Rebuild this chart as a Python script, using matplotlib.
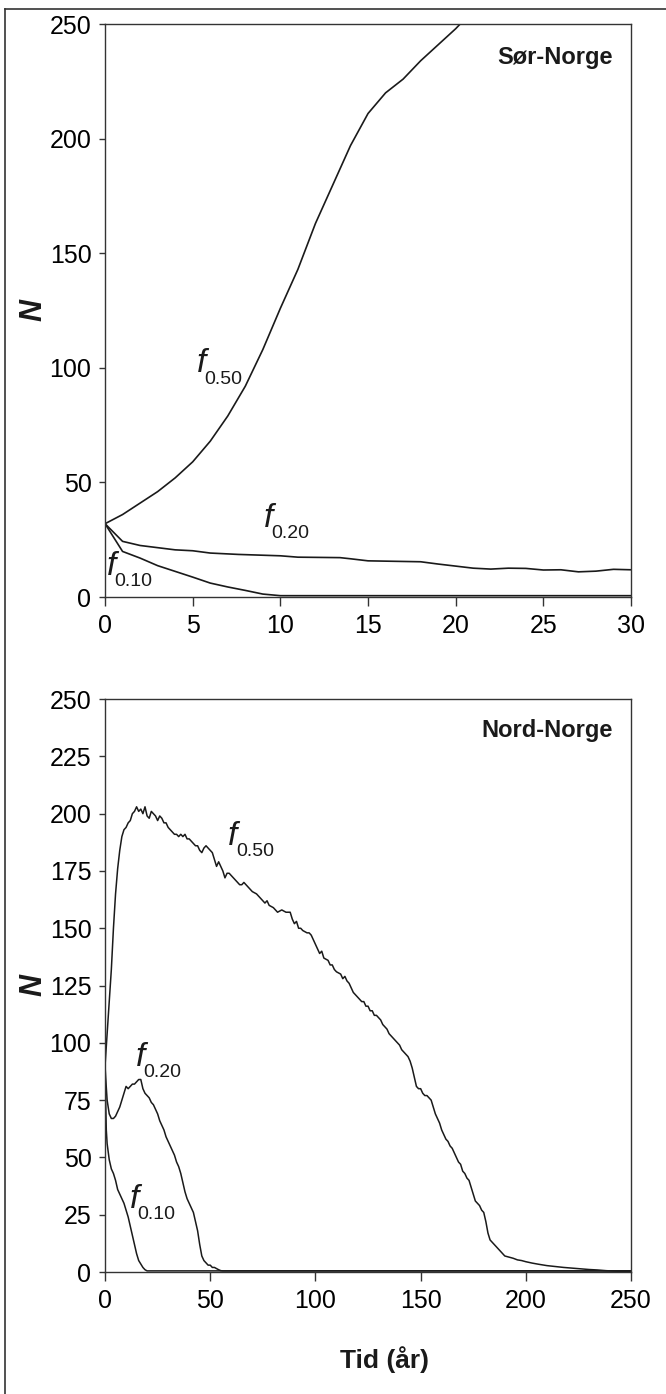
import matplotlib
matplotlib.use('Agg')
import matplotlib.pyplot as plt
from matplotlib.lines import Line2D

plt.rcParams['font.family'] = ['Liberation Sans', 'DejaVu Sans']

# --- Sør-Norge (top panel), years 0-30 ---
sor_x = [0, 1, 2, 3, 4, 5, 6, 7, 8, 9, 10, 11, 12, 13, 14, 15, 16, 17, 18, 19, 20, 21]
sor_f50 = [32, 36, 41, 46, 52, 59, 68, 79, 92, 108, 126, 143, 163, 180, 197, 211, 220, 226, 234, 241, 248, 256]

sor_x20 = [0, 1, 2, 4, 5, 6, 7.6, 10, 11, 13.4, 14, 15, 18, 19, 21, 22, 23, 24, 25, 26, 27, 28, 29, 30]
sor_f20 = [32, 24.3, 22.5, 20.6, 20.2, 19.2, 18.6, 18.0, 17.4, 17.2, 16.7, 15.8, 15.4, 14.4, 12.6, 12.2,
           12.6, 12.5, 11.8, 11.9, 11.0, 11.3, 12.1, 11.9]

sor_x10 = [0, 1, 2, 3, 4, 5, 6, 7, 8, 9, 10, 30]
sor_f10 = [32, 19.9, 17, 13.7, 11.2, 8.7, 6.1, 4.4, 2.9, 1.3, 0.6, 0.6]

# --- Nord-Norge (bottom panel), years 0-250 ---
nord_x50 = [0, 1, 2, 3, 4, 5, 6, 7, 8, 9, 10, 11, 12, 13, 14, 15, 16, 17, 18, 19, 20, 21, 22, 23, 24,
            25, 26, 27, 28, 29, 30, 31, 32, 33, 34, 35, 36, 37, 38, 39, 40, 41, 42, 43, 44, 45, 46, 47,
            48, 49, 50, 51, 52, 53, 54, 55, 56, 57, 58, 59, 60, 61, 62, 63, 64, 65, 66, 67, 68, 70, 72,
            74, 76, 77, 78, 80, 82, 84, 86, 88, 89, 90, 91, 92, 93, 94, 96, 97, 98, 99, 100, 101, 102,
            103, 104, 106, 107, 108, 109, 110, 112, 113, 114, 115, 116, 117, 118, 119, 120, 121, 122,
            123, 124, 125, 126, 127, 128, 129, 130, 131, 132, 133, 134, 135, 136, 137, 138, 139, 140,
            141, 142, 143, 144, 145, 146, 147, 148, 149, 150, 151, 152, 153, 154, 155, 156, 157, 158,
            159, 160, 161, 162, 163, 164, 165, 166, 167, 168, 169, 170, 171, 172, 173, 174, 175, 176,
            177, 178, 179, 180, 181, 182, 183, 184, 185, 186, 187, 188, 189, 190, 192, 194, 196, 198,
            200, 203, 206, 210, 214, 218, 222, 226, 230, 234, 238, 242, 246, 250]
nord_f50 = [90, 104, 118, 132, 150, 165, 176, 184, 190, 193, 194, 196, 197, 200, 201, 203, 201, 202, 200,
            203, 199, 198, 201, 200, 199, 197, 199, 198, 196, 196, 194, 193, 192, 191, 191, 190, 191,
            190, 191, 189, 189, 188, 187, 186, 186, 184, 183, 185, 186, 185, 184, 183, 180, 177, 179,
            177, 175, 172, 174, 174, 173, 172, 171, 170, 169, 169, 170, 169, 168, 166, 165, 163, 161,
            162, 160, 159, 157, 158, 157, 157, 154, 152, 153, 150, 150, 149, 148, 148, 147, 145, 143,
            141, 139, 140, 137, 136, 134, 134, 132, 131, 130, 128, 129, 127, 126, 124, 122, 121, 120,
            119, 118, 118, 116, 116, 114, 114, 112, 112, 111, 110, 108, 107, 106, 104, 103, 102, 101,
            100, 99, 97, 96, 95, 94, 92, 89, 85, 81, 80, 80, 78, 77, 77, 76, 75, 72, 69, 67, 65, 62, 60,
            58, 57, 55, 54, 52, 50, 48, 47, 44, 43, 41, 40, 37, 34, 31, 30, 29, 27, 26, 22, 17, 14, 13,
            12, 11, 10, 9, 8, 7, 6.5, 6, 5.3, 5, 4.5, 3.9, 3.4, 2.8, 2.4, 2.0, 1.7, 1.4, 1.1, 0.9, 0.6,
            0.4, 0.3, 0.3]

nord_x20 = [0, 0.5, 1, 2, 3, 4, 5, 6, 7, 8, 9, 10, 11, 12, 13, 14, 15, 16, 17, 18, 19, 20, 21, 22, 23,
            24, 25, 26, 27, 28, 29, 30, 31, 32, 33, 34, 35, 36, 37, 38, 39, 40, 41, 42, 43, 44, 45, 46,
            47, 48, 49, 50, 51, 52, 53, 54, 55, 56, 250]
nord_f20 = [90, 82, 75, 69, 67, 67, 68, 70, 72, 75, 78, 81, 80, 81, 82, 82, 83, 84, 84, 80, 78, 77, 76,
            74, 73, 71, 69, 66, 64, 62, 59, 57, 55, 53, 51, 48, 46, 43, 39, 35, 32, 30, 28, 26, 22, 18,
            12, 7, 5, 4, 3, 3, 2, 2, 1.5, 1, 0.6, 0.5, 0.5]

nord_x10 = [0, 0.3, 0.6, 1, 2, 3, 4, 5, 6, 7, 8, 9, 10, 11, 12, 13, 14, 15, 16, 17, 18, 19, 20, 250]
nord_f10 = [90, 75, 62, 56, 49, 45, 43, 40, 36, 34, 32, 30, 27, 24, 20, 16, 12, 8, 5, 3.5, 2, 1, 0.5, 0.5]

line_color = '#1a1a1a'
frame_color = '#333333'

fig = plt.figure(figsize=(6.66, 13.94), dpi=100)
ax1 = fig.add_axes([0.1577, 0.5717, 0.7898, 0.4110])
ax2 = fig.add_axes([0.1577, 0.0875, 0.7898, 0.4110])


def flabel(ax, x, y, sub):
    ax.text(x, y, 'f', fontsize=24, style='italic', ha='left', va='baseline', color=line_color)
    ax.annotate(sub, (x, y), xytext=(5.5, -8), textcoords='offset points', fontsize=14,
                ha='left', va='baseline', color=line_color, annotation_clip=False)


def style_axes(ax):
    for sp in ax.spines.values():
        sp.set_color(frame_color)
        sp.set_linewidth(1.0)
    ax.tick_params(axis='x', direction='out', length=6.5, width=1.0, pad=6, labelsize=18,
                   color=frame_color)
    ax.tick_params(axis='y', direction='out', length=4.3, width=1.0, pad=5.5, labelsize=18,
                   color=frame_color)


# top panel
ax1.plot(sor_x, sor_f50, color=line_color, lw=1.2)
ax1.plot(sor_x20, sor_f20, color=line_color, lw=1.2)
ax1.plot(sor_x10, sor_f10, color=line_color, lw=1.2)
ax1.set_xlim(0, 30)
ax1.set_ylim(0, 250)
ax1.set_xticks(range(0, 31, 5))
ax1.set_yticks(range(0, 251, 50))
style_axes(ax1)
flabel(ax1, 5.25, 98, '0.50')
flabel(ax1, 9.05, 30.7, '0.20')
flabel(ax1, 0.1, 9.6, '0.10')
ax1.text(0.966, 0.942, 'Sør-Norge', transform=ax1.transAxes, fontsize=17, fontweight='bold',
         ha='right', va='center', color=line_color)

# bottom panel
ax2.plot(nord_x50, nord_f50, color=line_color, lw=1.1)
ax2.plot(nord_x20, nord_f20, color=line_color, lw=1.1)
ax2.plot(nord_x10, nord_f10, color=line_color, lw=1.1)
ax2.set_xlim(0, 250)
ax2.set_ylim(0, 250)
ax2.set_xticks(range(0, 251, 50))
ax2.set_yticks(range(0, 251, 25))
style_axes(ax2)
flabel(ax2, 58.6, 186.3, '0.50')
flabel(ax2, 14.7, 89.9, '0.20')
flabel(ax2, 11.7, 27.9, '0.10')
ax2.text(0.966, 0.946, 'Nord-Norge', transform=ax2.transAxes, fontsize=17, fontweight='bold',
         ha='right', va='center', color=line_color)

# y labels and x label
fig.text(33 / 666, 1 - 310 / 1394, 'N', rotation=90, fontsize=22, fontweight='bold',
         style='italic', ha='center', va='center', color=line_color)
fig.text(33 / 666, 1 - 985 / 1394, 'N', rotation=90, fontsize=22, fontweight='bold',
         style='italic', ha='center', va='center', color=line_color)
fig.text(385 / 666, 1 - 1360 / 1394, 'Tid (år)', fontsize=19, fontweight='bold',
         ha='center', va='center', color=line_color)

# outer frame (only top and left edges visible)
fig.add_artist(Line2D([5 / 666, 5 / 666], [0, 1 - 9 / 1394], transform=fig.transFigure,
                      color=frame_color, lw=1.2))
fig.add_artist(Line2D([5 / 666, 1], [1 - 9 / 1394, 1 - 9 / 1394], transform=fig.transFigure,
                      color=frame_color, lw=1.2))

fig.savefig('out.png', dpi=100)
